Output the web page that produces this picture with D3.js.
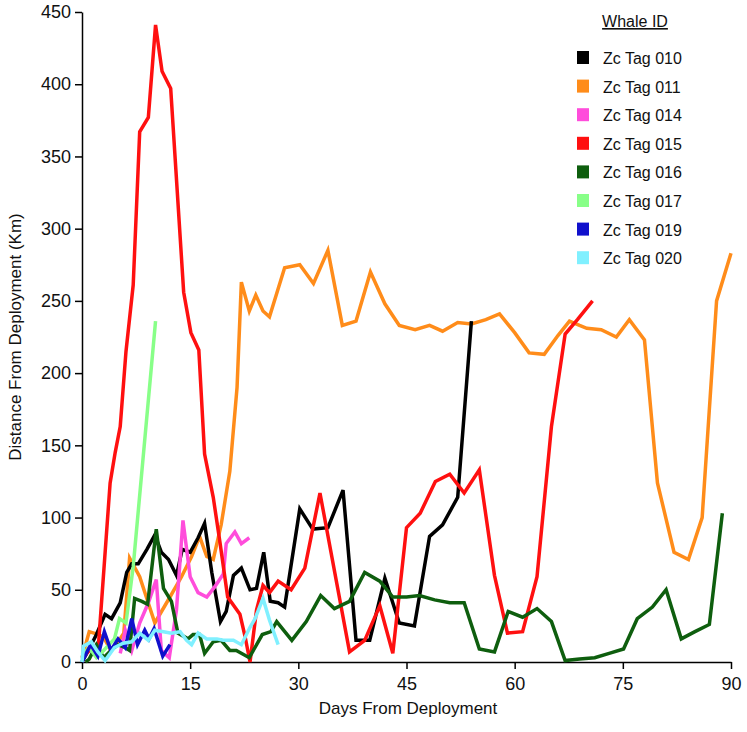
<!DOCTYPE html>
<html><head><meta charset="utf-8">
<script src="https://cdn.jsdelivr.net/npm/d3@7"></script>
<style>body{margin:0;background:#fff;} svg{display:block;font-family:"Liberation Sans",Arial,sans-serif;}</style>
</head><body>
<svg id="chart" width="747" height="732"></svg>
<script>
const whaleIds = ["Zc Tag 010","Zc Tag 011","Zc Tag 014","Zc Tag 015","Zc Tag 016","Zc Tag 017","Zc Tag 019","Zc Tag 020"];
const xTicks = [0,15,30,45,60,75,90];
const yTicks = [0,50,100,150,200,250,300,350,400,450];

const tag010 = [[0,0],[1.1,10],[2,19],[3.2,33],[4.1,30],[5.3,41],[6.2,62],[6.9,68],[7.8,68],[9,78],[10.1,88],[11,76],[12,71],[13.1,60],[13.9,78],[15,76],[16.1,86],[17,96],[18,62],[19.2,28],[20,35],[21,60],[22.1,65],[23.3,50],[24.2,51],[25.2,76],[26.1,42],[27.2,41],[28.1,38],[30.2,106],[32,92],[34.1,93],[36.2,119],[38,15],[39.9,15],[42,58],[44,27],[46.1,25],[48.2,87],[50,95],[52.1,114],[54,236]];
const tag011 = [[0,3],[1,21],[2.3,19],[3,17],[4,8],[5,14],[5.8,20],[6.6,72],[8,59],[10.1,27],[12.2,45],[13.8,59],[15.2,73],[16.3,87],[17.3,73],[18.2,71],[19.3,95],[20.5,132],[21.5,190],[22.1,263],[23.2,243],[24.1,254],[25.1,243],[26,239],[28.1,273],[30.2,275],[32.1,262],[34.1,285],[36.1,233],[38,236],[40,270],[42,248],[44,233],[46.2,230],[48.2,233],[50,229],[52.1,235],[54,234],[56,237],[57.9,241],[60,228],[62,214],[64.1,213],[66,226],[67.6,236],[69,233],[70,231],[72,230],[74.1,225],[75.9,237],[78,223],[79.8,124],[82.1,76],[84.1,71],[86,100],[88,250],[90,283]];
const tag014 = [[5.3,6],[6,22],[6.9,8],[8,27],[9.2,41],[10.3,57],[11,8],[12.1,3],[13.1,36],[14,98],[15,59],[16.1,48],[17.3,45],[18.4,52],[19.6,61],[20,82],[21.2,90],[22.1,82],[23.2,86]];
const tag015 = [[0,2],[1,8],[2.3,13],[3.9,124],[4.6,145],[5.3,163],[6.1,215],[7.1,261],[8,367],[9.2,377],[10.2,441],[11.1,409],[12.3,397],[14.1,256],[15.1,228],[16.2,216],[17,144],[18.2,114],[19.1,84],[20.2,45],[21.9,33],[22.6,18],[23.3,0],[24.2,36],[25.1,53],[26,48],[27.2,56],[29,50],[30.9,65],[33,117],[37.1,7],[39.2,15],[41.3,39],[43.1,6],[45,93],[46.9,103],[49,125],[51,130],[53,117],[55.1,133],[57.2,60],[59,20],[61.1,21],[63.1,59],[65.1,163],[67,227],[68.7,237],[70.8,250]];
const tag016 = [[0.5,0],[1,2],[2,12],[3,3],[4,8],[5,12],[6,10],[6.6,8],[7.3,44],[8.3,42],[9.1,40],[10.3,92],[11.3,51],[12.4,42],[13.3,20],[14.7,16],[15.4,19],[16.3,19],[17,6],[18.2,14],[19.3,15],[20.5,8],[21.4,8],[23.2,3],[25,19],[26.2,21],[27,28],[29.1,15],[31.1,28],[33.1,46],[35,37],[37.1,42],[39.2,62],[41.3,56],[43.1,45],[45,45],[46.8,46],[48.9,43],[51,41],[53,41],[55.1,9],[57.2,7],[59.1,35],[61.1,31],[63.1,37],[65.1,28],[67,1],[69,2],[71.1,3],[73.1,6],[75.1,9],[77,30],[79.1,38],[81,50],[83.1,16],[85,21],[87,26],[88.8,103]];
const tag017 = [[0,5],[1,10],[2,3],[3,8],[4.5,16],[5.2,30],[6.1,27],[7.1,66],[10.2,236]];
const tag019 = [[0,0],[1.2,12],[2.2,4],[3.1,21],[4,8],[5,16],[6,10],[6.9,30],[7.7,12],[8.7,22],[9.3,16],[10,23],[11.2,4],[12.2,12]];
const tag020 = [[0,0],[0.2,11],[1.3,14],[2.2,7],[3.2,1],[4.5,10],[5.7,13],[6.9,14],[8,20],[9.2,15],[10.1,22],[11.3,21],[12.4,20],[13.6,21],[14.5,15],[15.2,12],[16.1,20],[17.3,16],[18.7,16],[19.6,15],[21,15],[22.1,12],[23.3,24],[24,30],[25.1,44],[26,29],[27.2,12]];

const seriesData = [tag010, tag011, tag014, tag015, tag016, tag017, tag019, tag020];
const colors = ["#000000","#ff8c1a","#ff4ddb","#ff1010","#0e5e0e","#88ff88","#1010cc","#80f0ff"];
const drawOrder = [1,0,2,3,4,5,6,7];

const svg = d3.select("#chart");
const x = d3.scaleLinear().domain([0,90]).range([82,731]);
const y = d3.scaleLinear().domain([0,450]).range([662,12]);

const xAxis = svg.append("g").attr("transform","translate(0,662)")
  .call(d3.axisBottom(x).tickValues(xTicks).tickSize(7).tickPadding(8).tickSizeOuter(0));
const yAxis = svg.append("g").attr("transform","translate(82,0)")
  .call(d3.axisLeft(y).tickValues(yTicks).tickSize(7).tickPadding(4).tickSizeOuter(0));
[xAxis,yAxis].forEach(a=>{
  a.select(".domain").attr("stroke","#000").attr("stroke-width",1.5);
  a.selectAll(".tick line").attr("stroke","#000").attr("stroke-width",1.5);
  a.selectAll(".tick text").attr("fill","#111").attr("font-size",18).attr("font-family","Liberation Sans, Arial, sans-serif");
});

const line = d3.line().x(d=>x(d[0])).y(d=>y(d[1]));
svg.append("g").selectAll("path").data(drawOrder).join("path")
  .attr("d", i=>line(seriesData[i]))
  .attr("fill","none").attr("stroke", i=>colors[i])
  .attr("stroke-width",3.5).attr("stroke-linejoin","miter").attr("stroke-miterlimit",4);

svg.append("text").attr("x",408).attr("y",714).attr("text-anchor","middle")
  .attr("font-size",17).attr("fill","#111").text("Days From Deployment");
svg.append("text").attr("transform","translate(21,337) rotate(-90)").attr("text-anchor","middle")
  .attr("font-size",17).attr("fill","#111").text("Distance From Deployment (Km)");

const lg = svg.append("g");
lg.append("text").attr("x",635).attr("y",27).attr("text-anchor","middle").attr("font-size",16)
  .attr("fill","#111").attr("text-decoration","underline").text("Whale ID");
const items = lg.selectAll("g.item").data(whaleIds).join("g").attr("class","item")
  .attr("transform",(d,i)=>`translate(0,${58 + i*28.6})`);
items.append("rect").attr("x",577).attr("y",-7).attr("width",12).attr("height",13).attr("fill",(d,i)=>colors[i]);
items.append("text").attr("x",603).attr("y",6).attr("font-size",16).attr("fill","#111").text(d=>d);
</script>
</body></html>
